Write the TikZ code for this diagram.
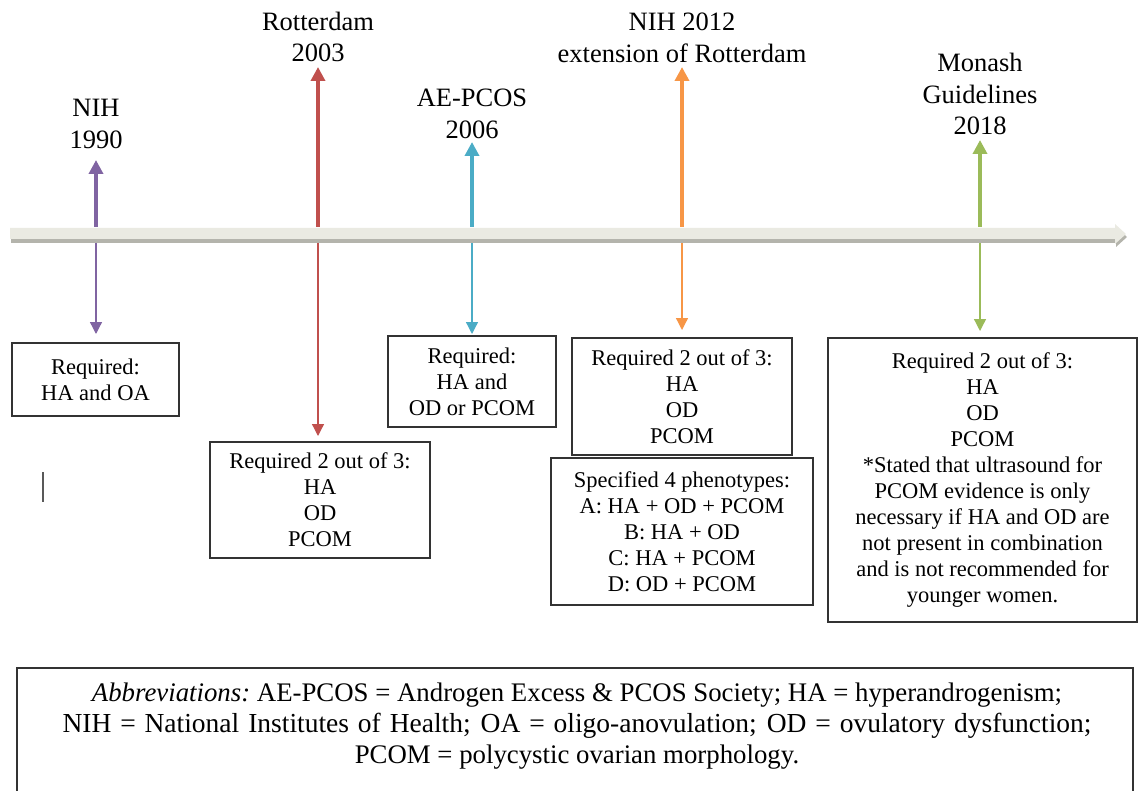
\documentclass[tikz,border=0pt]{standalone}
\usepackage{fontspec}
\setmainfont{Liberation Serif}
\usetikzlibrary{arrows.meta}
\definecolor{cpur}{HTML}{8064A2}
\definecolor{cred}{HTML}{C0504D}
\definecolor{ccya}{HTML}{4BACC6}
\definecolor{cora}{HTML}{F79646}
\definecolor{cgre}{HTML}{9BBB59}
\definecolor{barlight}{HTML}{EAEAE2}
\definecolor{barshadow}{HTML}{B4B4AC}
\definecolor{boxline}{HTML}{333333}
\tikzset{
  infobox/.style={draw=boxline, line width=1.3pt, align=center, inner sep=0pt,
    font=\fontsize{22.5}{26}\selectfont},
  eralabel/.style={align=center, inner sep=0pt, font=\fontsize{26.5}{31.5}\selectfont},
  uparrow/.style={line width=4.5pt, -{Triangle[width=14pt,length=14pt]}},
  downarrow/.style={line width=1.3pt, -{Triangle[width=12pt,length=12pt]}},
}
\begin{document}
\begin{tikzpicture}[x=1pt,y=-1pt]
\useasboundingbox (0,0) rectangle (1139,791);
\clip (0,0) rectangle (1139,791);

% timeline bar
\fill[barshadow] (11,231) -- (1116,231) -- (1116,227) -- (1127,237) -- (1116,247) -- (1116,243) -- (11,243) -- cycle;
\fill[barlight] (10,228) -- (1115,228) -- (1115,224) -- (1126,234) -- (1115,244) -- (1115,239) -- (10,239) -- cycle;

% labels
\node[eralabel] (lnih) at (96,124) {NIH\\1990};
\node[eralabel] (lrot) at (318,37) {Rotterdam\\2003};
\node[eralabel] (lae) at (472,114) {AE-PCOS\\2006};
\node[eralabel] (lnih2) at (682,38) {NIH 2012\\extension of Rotterdam};
\node[eralabel] (lmon) at (980,94) {Monash\\Guidelines\\2018};

% boxes
\node[infobox, minimum width=167pt, minimum height=73pt] (bnih) at (95.5,379.5) {Required:\\HA and OA};
\node[infobox, minimum width=220pt, minimum height=116pt] (brot) at (320,500) {Required 2 out of 3:\\HA\\OD\\PCOM};
\node[infobox, minimum width=168pt, minimum height=91pt] (bae) at (472,381.5) {Required:\\HA and\\OD or PCOM};
\node[infobox, minimum width=220pt, minimum height=117pt] (bnih2) at (682,396.5) {Required 2 out of 3:\\HA\\OD\\PCOM};
\node[infobox, minimum width=262pt, minimum height=147pt] (bphe) at (682,531.5) {Specified 4 phenotypes:\\A: HA + OD + PCOM\\B: HA + OD\\C: HA + PCOM\\D: OD + PCOM};
\node[infobox, minimum width=309pt, minimum height=284pt] (bmon) at (982.5,480) {Required 2 out of 3:\\HA\\OD\\PCOM\\*Stated that ultrasound for\\PCOM evidence is only\\necessary if HA and OD are\\not present in combination\\and is not recommended for\\younger women.};

% abbreviations
\draw[boxline, line width=1.3pt] (17,820) -- (17,668) -- (1133,668) -- (1133,820);
\node[align=center, inner sep=0pt, font=\fontsize{26.8}{31}\selectfont] (abbr) at (577,726)
  {\textit{Abbreviations:}~AE-PCOS = Androgen Excess \& PCOS Society; HA = hyperandrogenism;\\
   {\fontsize{27.5}{31}\selectfont\makebox[1029pt][s]{NIH = National Institutes of Health; OA = oligo-anovulation; OD = ovulatory dysfunction;}}\\
   PCOM = polycystic ovarian morphology.};

% coordinates on the timeline
\coordinate (tnih) at (96,227);
\coordinate (trot) at (318,227);
\coordinate (tae) at (472,227);
\coordinate (tnih2) at (682,227);
\coordinate (tmon) at (980,227);
\coordinate (dnih) at (96,243);
\coordinate (drot) at (318,243);
\coordinate (dae) at (472,243);
\coordinate (dnih2) at (682,243);
\coordinate (dmon) at (980,243);

% up arrows
\draw[uparrow, cpur] (tnih) -- (96,160);
\draw[uparrow, cred] (trot) -- (318,67);
\draw[uparrow, ccya] (tae) -- (472,142);
\draw[uparrow, cora] (tnih2) -- (682,67);
\draw[uparrow, cgre] (tmon) -- (980,140);

% down arrows
\draw[downarrow, cpur] (dnih) -- (dnih |- 0,334);
\draw[downarrow, cred] (drot) -- (drot |- 0,436);
\draw[downarrow, ccya] (dae) -- (dae |- 0,334);
\draw[downarrow, cora] (dnih2) -- (dnih2 |- 0,330);
\draw[downarrow, cgre] (dmon) -- (dmon |- 0,331);

% stray mark
\draw[black!65, line width=2pt] (42.5,472) -- (42.5,502);
\end{tikzpicture}
\end{document}
